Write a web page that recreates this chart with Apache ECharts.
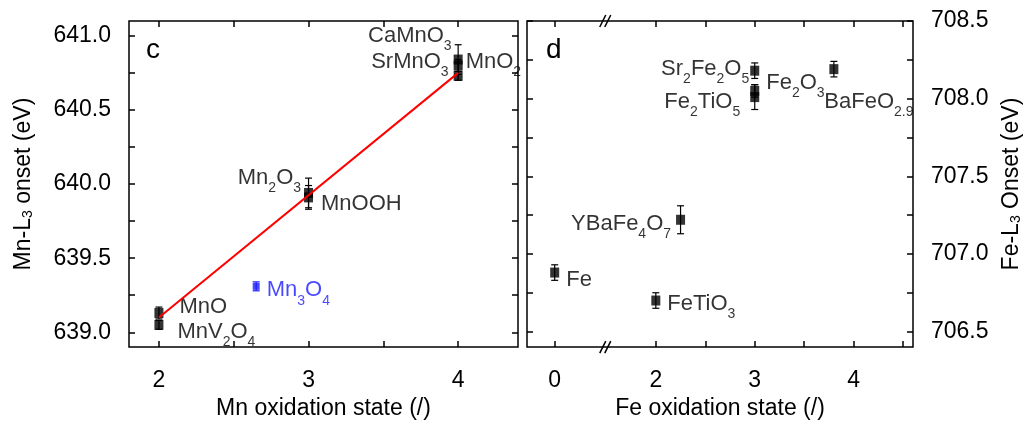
<!DOCTYPE html>
<html>
<head>
<meta charset="utf-8">
<script src="https://cdn.jsdelivr.net/npm/echarts@6/dist/echarts.min.js"></script>
<style>
  html, body { margin: 0; padding: 0; background: #fff; }
  #chart { width: 1028px; height: 425px; }
</style>
</head>
<body>
<div id="chart"></div>
<script>
// ---------- data (panel c: Mn) ----------
const mnNames   = ['CaMnO3', 'SrMnO3', 'MnO2', 'Mn2O3', 'MnOOH', 'MnO', 'MnV2O4'];
const mnOx      = [4, 4, 4, 3, 3, 2, 2];
const mnOnset   = [640.84, 640.80, 640.73, 639.94, 639.91, 639.13, 639.05];
const mnErr     = [0.10, 0.04, 0.03, 0.10, 0.08, 0.04, 0.03];
const mn3o4Name  = ['Mn3O4'];
const mn3o4Ox    = [2.65];
const mn3o4Onset = [639.31];
const mn3o4Err   = [0.03];
const fitX = [2, 4];
const fitY = [639.10, 640.75];

// ---------- data (panel d: Fe) ----------
const feNames = ['Sr2Fe2O5', 'Fe2O3', 'Fe2TiO5', 'BaFeO2.9', 'YBaFe4O7', 'Fe', 'FeTiO3'];
const feOx    = [3, 3, 3, 3.8, 2.25, 0, 2];
const feOnset = [708.18, 708.05, 708.01, 708.19, 707.22, 706.88, 706.70];
const feErr   = [0.05, 0.04, 0.08, 0.05, 0.09, 0.05, 0.05];

// ---------- ticks ----------
const mnXTicks  = [2, 2.5, 3, 3.5, 4];
const mnXLabels = [2, 3, 4];
const mnYTicks  = [639, 639.25, 639.5, 639.75, 640, 640.25, 640.5, 640.75, 641];
const mnYLabels = [639, 639.5, 640, 640.5, 641];
const feXTicks  = [0, 2, 2.5, 3, 3.5, 4, 4.5];
const feXLabels = [0, 2, 3, 4];
const feYTicks  = [706.5, 706.75, 707, 707.25, 707.5, 707.75, 708, 708.25, 708.5];
const feYLabels = [706.5, 707, 707.5, 708, 708.5];
const feBreak   = [0.4, 1.6];

// ---------- label placement (style only) ----------
const mnLabelPos    = ['left', 'left', 'right', 'left', 'right', 'right', 'right'];
const mnLabelOffset = [[3, -24], [0, -4], [-2, -14], [2, -15], [3, 7], [11, -6], [9, 7]];
const mn3o4LabelOffset = [2, 4];
const feLabelPos    = ['left', 'right', 'left', 'right', 'left', 'right', 'right'];
const feLabelOffset = [[4, -2], [2, -8], [-5, 5], [-19, 33], [0, 4], [2, 7], [2, 3]];

const FONT = "'Liberation Sans', Arial, Helvetica, sans-serif";
const sub = s => s.replace(/(\d+(?:\.\d+)?)/g, '{s|$1}');
const richSub = { s: { fontSize: 14, lineHeight: 14, verticalAlign: 'bottom', fontFamily: FONT, color: '#000' } };

function labelStyle(color) {
  return {
    show: true, color: color, fontSize: 22, fontFamily: FONT, lineHeight: 35,
    formatter: p => sub(p.name),
    rich: { s: { fontSize: 14, lineHeight: 14, verticalAlign: 'bottom', fontFamily: FONT, color: color } }
  };
}

function points(names, xs, ys, pos, offs) {
  return xs.map((x, i) => ({
    name: names[i], value: [x, ys[i]],
    label: { position: pos[i], offset: offs[i] }
  }));
}

function errSeries(xs, ys, es, xi, yi, color) {
  return {
    type: 'custom', xAxisIndex: xi, yAxisIndex: yi, silent: true, z: 2,
    data: xs.map((x, i) => [x, ys[i] - es[i], ys[i] + es[i]]),
    encode: { x: 0, y: [1, 2] },
    renderItem(params, api) {
      const lo = api.coord([api.value(0), api.value(1)]);
      const hi = api.coord([api.value(0), api.value(2)]);
      const w = 3.5, st = { stroke: color, lineWidth: 1.2 };
      return { type: 'group', children: [
        { type: 'line', shape: { x1: lo[0], y1: lo[1], x2: hi[0], y2: hi[1] }, style: st },
        { type: 'line', shape: { x1: lo[0] - w, y1: lo[1], x2: lo[0] + w, y2: lo[1] }, style: st },
        { type: 'line', shape: { x1: hi[0] - w, y1: hi[1], x2: hi[0] + w, y2: hi[1] }, style: st }
      ]};
    }
  };
}

const tickStyle = (vals) => ({ show: true, inside: true, length: 6, lineStyle: { color: '#000', width: 1.5 }, customValues: vals });
const labelAx = (vals, fmt, margin) => ({ show: true, customValues: vals, formatter: fmt, fontSize: 23, color: '#000', fontFamily: FONT, margin: margin });
const noLabel = { show: false };
const hiddenLine = { show: false, onZero: false };

const chart = echarts.init(document.getElementById('chart'), null, { renderer: 'canvas' });

const option = {
  animation: false,
  backgroundColor: '#fff',
  textStyle: { fontFamily: FONT },
  title: [
    { text: 'c', left: 146, top: 36, padding: 0, textStyle: { fontSize: 28, fontWeight: 'normal', color: '#000', fontFamily: FONT } },
    { text: 'd', left: 546, top: 36, padding: 0, textStyle: { fontSize: 28, fontWeight: 'normal', color: '#000', fontFamily: FONT } }
  ],
  grid: [
    { left: 129, right: 510, top: 21, bottom: 72, show: true, borderColor: '#000', borderWidth: 1.5, containLabel: false },
    { left: 527, right: 115, top: 21, bottom: 72, show: true, borderColor: '#000', borderWidth: 1.5, containLabel: false }
  ],
  xAxis: [
    { gridIndex: 0, type: 'value', position: 'bottom', min: 1.8, max: 4.4,
      axisLine: hiddenLine, splitLine: { show: false },
      axisTick: tickStyle(mnXTicks), axisLabel: labelAx(mnXLabels, v => String(v), 22),
      name: 'Mn oxidation state (/)', nameLocation: 'middle', nameGap: 41,
      nameTextStyle: { fontSize: 23, color: '#000', fontFamily: FONT } },
    { gridIndex: 0, type: 'value', position: 'top', min: 1.8, max: 4.4,
      axisLine: hiddenLine, splitLine: { show: false },
      axisTick: tickStyle(mnXTicks), axisLabel: noLabel },
    { gridIndex: 1, type: 'value', position: 'bottom', min: -0.28, max: 4.6,
      breaks: [{ start: feBreak[0], end: feBreak[1], gap: '5.7%' }],
      breakArea: { show: false },
      axisLine: hiddenLine, splitLine: { show: false },
      axisTick: tickStyle(feXTicks), axisLabel: labelAx(feXLabels, v => String(v), 22),
      name: 'Fe oxidation state (/)', nameLocation: 'middle', nameGap: 41,
      nameTextStyle: { fontSize: 23, color: '#000', fontFamily: FONT } },
    { gridIndex: 1, type: 'value', position: 'top', min: -0.28, max: 4.6,
      breaks: [{ start: feBreak[0], end: feBreak[1], gap: '5.7%' }],
      breakArea: { show: false },
      axisLine: hiddenLine, splitLine: { show: false },
      axisTick: tickStyle(feXTicks), axisLabel: noLabel }
  ],
  yAxis: [
    { gridIndex: 0, type: 'value', position: 'left', min: 638.9, max: 641.1,
      axisLine: hiddenLine, splitLine: { show: false },
      axisTick: tickStyle(mnYTicks), axisLabel: labelAx(mnYLabels, v => v.toFixed(1), 18),
      name: 'Mn-L{s|3} onset (eV)', nameLocation: 'middle', nameGap: 94, nameRotate: 90,
      nameTextStyle: { fontSize: 23, color: '#000', fontFamily: FONT, rich: richSub } },
    { gridIndex: 0, type: 'value', position: 'right', min: 638.9, max: 641.1,
      axisLine: hiddenLine, splitLine: { show: false },
      axisTick: tickStyle(mnYTicks), axisLabel: noLabel },
    { gridIndex: 1, type: 'value', position: 'right', min: 706.4, max: 708.5,
      axisLine: hiddenLine, splitLine: { show: false },
      axisTick: tickStyle(feYTicks), axisLabel: labelAx(feYLabels, v => v.toFixed(1), 18),
      name: 'Fe-L{s|3} Onset (eV)', nameLocation: 'middle', nameGap: 87, nameRotate: 90,
      nameTextStyle: { fontSize: 23, color: '#000', fontFamily: FONT, rich: richSub } },
    { gridIndex: 1, type: 'value', position: 'left', min: 706.4, max: 708.5,
      axisLine: hiddenLine, splitLine: { show: false },
      axisTick: tickStyle(feYTicks), axisLabel: noLabel }
  ],
  series: [
    errSeries(mnOx, mnOnset, mnErr, 0, 0, '#000'),
    errSeries(mn3o4Ox, mn3o4Onset, mn3o4Err, 0, 0, '#1a1aff'),
    errSeries(feOx, feOnset, feErr, 2, 2, '#000'),
    { type: 'scatter', xAxisIndex: 0, yAxisIndex: 0, symbol: 'rect', symbolSize: [9, 10], z: 3,
      itemStyle: { color: '#000' }, label: labelStyle('#000'),
      data: points(mnNames, mnOx, mnOnset, mnLabelPos, mnLabelOffset) },
    { type: 'scatter', xAxisIndex: 0, yAxisIndex: 0, symbol: 'rect', symbolSize: [7, 7], z: 3,
      itemStyle: { color: '#1a1aff' }, label: labelStyle('#1a1aff'),
      data: points(mn3o4Name, mn3o4Ox, mn3o4Onset, ['right'], [mn3o4LabelOffset]) },
    { type: 'line', xAxisIndex: 0, yAxisIndex: 0, showSymbol: false, symbol: 'none', z: 4, silent: true,
      lineStyle: { color: '#ff0000', width: 2 },
      data: fitX.map((x, i) => [x, fitY[i]]) },
    { type: 'scatter', xAxisIndex: 2, yAxisIndex: 2, symbol: 'rect', symbolSize: [9, 10], z: 3,
      itemStyle: { color: '#000' }, label: labelStyle('#000'),
      data: points(feNames, feOx, feOnset, feLabelPos, feLabelOffset) }
  ]
};
chart.setOption(option);

// axis-break marks "//" on top and bottom edges, placed through the axis scale
const bx = chart.convertToPixel({ xAxisIndex: 2 }, (feBreak[0] + feBreak[1]) / 2);
const yTop = chart.convertToPixel({ yAxisIndex: 2 }, 708.5);
const yBot = chart.convertToPixel({ yAxisIndex: 2 }, 706.4);
function slashes(cx, cy) {
  const st = { stroke: '#000', lineWidth: 1.5 };
  return [-2.5, 2.5].map(dx => ({
    type: 'line', silent: true, z: 100,
    shape: { x1: cx + dx - 3, y1: cy + 6, x2: cx + dx + 3, y2: cy - 6 }, style: st
  }));
}
chart.setOption({ graphic: [...slashes(bx, yTop), ...slashes(bx, yBot)] });
</script>
</body>
</html>
